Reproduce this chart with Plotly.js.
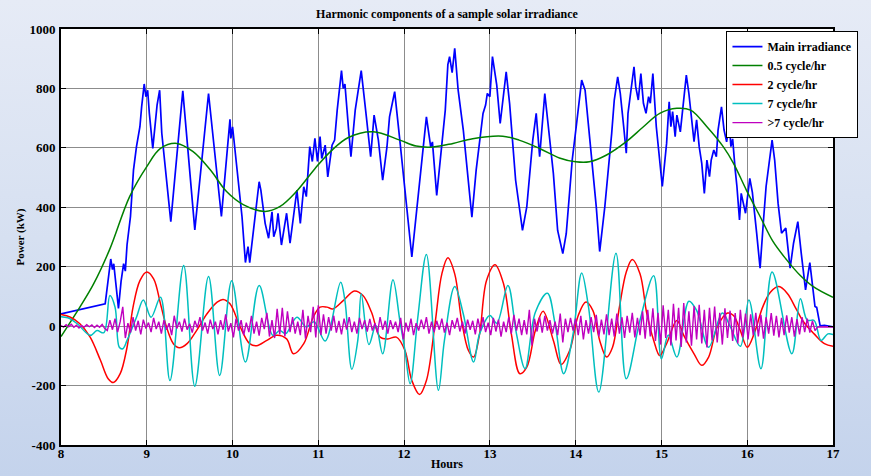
<!DOCTYPE html>
<html>
<head>
<meta charset="utf-8">
<script src="https://cdn.plot.ly/plotly-3.0.1.min.js"></script>
<style>
  html, body { margin: 0; padding: 0; }
  body { width: 871px; height: 476px; background: linear-gradient(to bottom, #e6ebf6 0%, #d6e0f1 50%, #c4d3ec 100%); overflow: hidden; }
  #chart { width: 871px; height: 476px; }
</style>
</head>
<body>
<div id="chart"></div>
<script>
// ---------------- data ----------------
const seriesNames = ["Main irradiance", "0.5 cycle/hr", "2 cycle/hr", "7 cycle/hr", ">7 cycle/hr"];
const xTickLabels = ["8", "9", "10", "11", "12", "13", "14", "15", "16", "17"];
const yTickLabels = ["-400", "-200", "0", "200", "400", "600", "800", "1000"];

const hoursMain = [8.00, 8.515, 8.58, 8.60, 8.615, 8.64, 8.67, 8.70, 8.73, 8.75, 8.77, 8.81, 8.845, 8.88, 8.92, 8.94, 8.97, 8.99, 9.01, 9.03, 9.07, 9.12, 9.15, 9.175, 9.28, 9.42, 9.56, 9.72, 9.87, 9.97, 9.98, 10.00, 10.11, 10.15, 10.18, 10.20, 10.26, 10.31, 10.33, 10.38, 10.42, 10.46, 10.48, 10.51, 10.53, 10.57, 10.63, 10.67, 10.75, 10.79, 10.83, 10.86, 10.90, 10.93, 10.96, 10.99, 11.02, 11.04, 11.08, 11.11, 11.16, 11.19, 11.22, 11.27, 11.29, 11.31, 11.35, 11.38, 11.43, 11.50, 11.56, 11.61, 11.65, 11.70, 11.75, 11.80, 11.83, 11.89, 11.95, 12.09, 12.26, 12.31, 12.33, 12.38, 12.48, 12.51, 12.53, 12.56, 12.59, 12.63, 12.69, 12.75, 12.79, 12.84, 12.92, 12.95, 12.97, 13.00, 13.03, 13.08, 13.12, 13.19, 13.23, 13.30, 13.38, 13.43, 13.50, 13.54, 13.58, 13.64, 13.66, 13.74, 13.79, 13.85, 13.89, 13.93, 13.96, 14.01, 14.03, 14.07, 14.11, 14.19, 14.24, 14.28, 14.34, 14.42, 14.45, 14.49, 14.52, 14.56, 14.59, 14.61, 14.65, 14.68, 14.70, 14.73, 14.76, 14.79, 14.82, 14.85, 14.87, 14.90, 14.94, 14.98, 15.01, 15.06, 15.09, 15.11, 15.13, 15.16, 15.18, 15.22, 15.26, 15.29, 15.32, 15.35, 15.38, 15.41, 15.44, 15.47, 15.50, 15.53, 15.56, 15.58, 15.61, 15.64, 15.66, 15.70, 15.73, 15.76, 15.79, 15.81, 15.83, 15.86, 15.88, 15.91, 15.93, 15.95, 15.98, 16.03, 16.06, 16.11, 16.15, 16.19, 16.22, 16.29, 16.32, 16.36, 16.40, 16.45, 16.50, 16.54, 16.59, 16.63, 16.68, 16.73, 16.77, 16.79, 16.81, 16.85, 16.90, 17.00];
const mainIrradiance = [41, 75, 226, 190, 210, 130, 60, 150, 210, 185, 274, 369, 525, 604, 671, 738, 815, 772, 794, 716, 598, 744, 794, 649, 352, 792, 324, 783, 369, 696, 632, 671, 369, 214, 268, 214, 369, 486, 458, 346, 296, 385, 301, 329, 380, 273, 380, 279, 458, 346, 469, 436, 604, 554, 632, 554, 638, 564, 609, 502, 609, 626, 727, 860, 800, 815, 671, 570, 727, 860, 704, 570, 710, 626, 491, 603, 704, 789, 626, 233, 704, 603, 620, 440, 727, 880, 907, 853, 935, 794, 660, 469, 367, 525, 716, 744, 783, 772, 907, 811, 682, 856, 749, 491, 322, 401, 626, 716, 570, 783, 733, 514, 322, 244, 311, 470, 560, 680, 727, 828, 794, 559, 402, 251, 402, 649, 761, 839, 783, 671, 582, 716, 817, 873, 806, 761, 850, 750, 716, 772, 750, 850, 671, 559, 470, 615, 755, 671, 722, 638, 710, 654, 761, 845, 783, 705, 621, 694, 604, 548, 447, 559, 503, 559, 593, 570, 660, 738, 660, 620, 682, 604, 630, 526, 470, 357, 447, 420, 380, 497, 450, 313, 195, 357, 470, 626, 559, 413, 313, 330, 195, 279, 352, 245, 122, 214, 125, 66, 63, 1, 3, -2];

const hoursHalf = [8.00, 8.22, 8.38, 8.57, 8.80, 9.00, 9.16, 9.35, 9.54, 9.74, 9.93, 10.13, 10.38, 10.55, 10.75, 10.96, 11.15, 11.35, 11.64, 11.95, 12.14, 12.34, 12.57, 12.80, 13.15, 13.34, 13.58, 13.81, 14.00, 14.16, 14.36, 14.59, 14.79, 14.98, 15.18, 15.34, 15.53, 15.72, 15.84, 15.99, 16.15, 16.30, 16.46, 16.61, 16.77, 17.00];
const halfCycle = [-35, 64, 142, 260, 436, 537, 598, 615, 587, 526, 453, 408, 386, 402, 455, 530, 590, 635, 654, 626, 606, 603, 615, 631, 639, 626, 598, 566, 553, 553, 576, 621, 671, 716, 733, 727, 671, 604, 548, 458, 369, 285, 223, 173, 133, 97];

const hoursTwo = [8.00, 8.11, 8.22, 8.34, 8.46, 8.55, 8.61, 8.69, 8.77, 8.84, 8.92, 9.00, 9.08, 9.16, 9.23, 9.31, 9.38, 9.47, 9.58, 9.70, 9.82, 9.89, 9.97, 10.09, 10.20, 10.28, 10.40, 10.51, 10.63, 10.71, 10.83, 10.94, 11.02, 11.10, 11.17, 11.29, 11.42, 11.52, 11.62, 11.72, 11.81, 11.91, 12.01, 12.09, 12.18, 12.26, 12.36, 12.44, 12.51, 12.59, 12.67, 12.75, 12.81, 12.88, 12.96, 13.06, 13.16, 13.25, 13.35, 13.43, 13.53, 13.62, 13.74, 13.83, 13.93, 14.03, 14.12, 14.20, 14.28, 14.36, 14.43, 14.51, 14.59, 14.66, 14.75, 14.83, 14.91, 14.98, 15.06, 15.18, 15.26, 15.38, 15.47, 15.55, 15.65, 15.77, 15.84, 15.92, 16.00, 16.08, 16.18, 16.27, 16.37, 16.47, 16.57, 16.66, 16.78, 16.90, 17.00];
const twoCycle = [39, 30, 8, -37, -115, -177, -190, -160, -71, 64, 153, 182, 159, 75, -3, -59, -73, -59, -15, 41, 81, 90, 75, -3, -59, -66, -48, -31, -43, -93, -59, 30, 64, 64, 58, 86, 118, 103, 47, -37, -43, -37, -82, -183, -230, -183, 8, 176, 230, 176, 19, -82, -104, -26, 153, 207, 142, -26, -160, -138, -15, 50, -48, -129, -82, 36, 81, 53, -48, -104, -71, 64, 182, 224, 176, 41, -48, -99, -59, 19, -31, -93, -132, -104, -3, 44, 36, -15, -71, -26, 64, 114, 133, 109, 58, 13, -26, -59, -68];

const hoursSeven = [8.00, 8.08, 8.19, 8.34, 8.42, 8.50, 8.57, 8.63, 8.68, 8.72, 8.77, 8.88, 8.96, 9.05, 9.16, 9.27, 9.43, 9.56, 9.72, 9.85, 9.99, 10.15, 10.31, 10.47, 10.55, 10.62, 10.75, 10.86, 10.95, 11.08, 11.26, 11.31, 11.39, 11.46, 11.50, 11.59, 11.67, 11.75, 11.87, 11.95, 12.01, 12.07, 12.16, 12.26, 12.40, 12.47, 12.59, 12.69, 12.81, 12.88, 13.00, 13.08, 13.21, 13.31, 13.41, 13.53, 13.67, 13.76, 13.86, 13.97, 14.07, 14.15, 14.27, 14.47, 14.59, 14.75, 14.91, 15.00, 15.08, 15.18, 15.32, 15.41, 15.55, 15.71, 15.80, 15.92, 16.02, 16.16, 16.29, 16.52, 16.62, 16.70, 16.78, 16.86, 16.94, 17.00];
const sevenCycle = [32, 28, 8, -31, -15, -22, 103, 64, -71, -76, -48, 30, 88, 30, 97, -183, 204, -202, 167, -166, 153, -121, 137, -31, -15, -25, 30, -3, 15, -50, 148, 86, -145, -48, 109, -62, 2, -93, 156, 19, -82, -194, 30, 241, -216, -48, 133, 41, -121, -26, 36, 10, 137, -26, -143, 47, 111, 8, -160, -26, 179, 64, -222, 245, -177, 20, 170, -110, -30, -104, 84, 53, -71, 44, 0, -68, 88, -143, 182, -93, 92, 20, 19, -48, -26, -28];

// >7 cycle/hr component, sampled every 0.03 h from 8:00 to 17:00
const highStart = 8.0, highStep = 0.03;
const highFreq = [
  2,-3,5,-2,6,-4,3,-6,2,-3,
  5,-2,4,-5,3,-4,6,-8,-15,20,
  -12,25,-20,15,65,-40,10,-22,30,-15,
  18,-28,22,-8,12,-20,28,-10,15,-25,
  20,-12,10,-30,35,-8,15,-18,25,-12,
  8,-22,18,-5,30,-15,12,-25,22,-10,
  15,-28,20,-12,40,-18,10,-38,25,-15,
  20,-30,12,-20,35,-25,15,-32,28,-10,
  45,-35,20,-40,58,-28,62,-35,50,-20,
  30,-25,15,-30,55,-42,35,-20,65,-38,
  70,-30,40,-25,30,-15,35,-22,18,-28,
  25,-12,30,-20,15,-25,28,-10,20,-18,
  24,-15,10,-22,30,-12,18,-25,20,-10,
  15,-20,28,-45,12,-18,25,-30,10,-15,
  22,-10,30,-25,15,-20,18,-12,25,-22,
  12,-30,20,-8,28,-18,15,-25,22,-12,
  18,-28,25,-15,30,-20,12,-30,28,-18,
  22,-35,15,-20,30,-25,38,-15,25,-30,
  20,-28,55,-65,25,-18,30,-22,35,-15,
  20,-25,15,-30,42,-55,25,-20,28,-15,
  25,-30,35,-45,20,-25,30,-20,38,-35,
  22,-28,40,-30,25,-35,42,-25,30,-40,
  35,-22,45,-38,28,-30,50,-42,55,-35,
  60,-50,45,-62,70,-40,55,-65,75,-48,
  62,-70,78,-55,50,-66,68,-45,72,-58,
  55,-72,62,-48,66,-55,45,-62,60,-40,
  52,-50,44,-58,55,-38,42,-45,40,-30,
  45,-35,38,-42,30,-25,44,-32,35,-38,
  28,-30,36,-22,30,-35,24,-28,30,-20,
  25,-22,18,-15,-3,-4,-3,-2,-3,-4,
  -3
];
const hoursHigh = highFreq.map((_, i) => +(highStart + i * highStep).toFixed(3));

// ---------------- chart ----------------
const serif = "'Liberation Serif', 'Times New Roman', Times, serif";
const colors = ["#0000ff", "#008000", "#ff0000", "#00bfbf", "#bf00bf"];

const traces = [
  { x: hoursMain, y: mainIrradiance, name: seriesNames[0], mode: "lines", line: { color: colors[0], width: 1.7 } },
  { x: hoursHalf, y: halfCycle, name: seriesNames[1], mode: "lines", line: { color: colors[1], width: 1.5, shape: "spline", smoothing: 1 } },
  { x: hoursTwo, y: twoCycle, name: seriesNames[2], mode: "lines", line: { color: colors[2], width: 1.5, shape: "spline", smoothing: 1 } },
  { x: hoursSeven, y: sevenCycle, name: seriesNames[3], mode: "lines", line: { color: colors[3], width: 1.5, shape: "spline", smoothing: 1 } },
  { x: hoursHigh, y: highFreq, name: seriesNames[4], mode: "lines", line: { color: colors[4], width: 1.4 } }
];

const tickFont = { family: serif, size: 13, color: "#000", weight: "bold" };
const axisCommon = {
  showline: true, linecolor: "#000", linewidth: 2, mirror: "ticks",
  ticks: "inside", ticklen: 5, tickwidth: 1, tickcolor: "#000",
  showgrid: true, gridcolor: "#8c8c8c", gridwidth: 1,
  zeroline: false, tickfont: tickFont
};

const layout = {
  width: 871, height: 476,
  paper_bgcolor: "rgba(0,0,0,0)", plot_bgcolor: "#ffffff",
  margin: { l: 61, r: 38, t: 29, b: 31, pad: 0 },
  title: {
    text: "Harmonic components of a sample solar irradiance",
    font: { family: serif, size: 12, color: "#000", weight: "bold" },
    xref: "paper", x: 0.5, xanchor: "center",
    yref: "container", y: 1 - 14 / 476, yanchor: "middle"
  },
  xaxis: Object.assign({}, axisCommon, {
    range: [8, 17], tickvals: xTickLabels.map(Number), ticktext: xTickLabels,
    ticklabelstandoff: -5,
    title: { text: "Hours", font: { family: serif, size: 12, color: "#000", weight: "bold" }, standoff: 0 }
  }),
  yaxis: Object.assign({}, axisCommon, {
    range: [-400, 1000], tickvals: yTickLabels.map(Number), ticktext: yTickLabels,
    ticklabelstandoff: 1,
    title: { text: "Power (kW)", font: { family: serif, size: 11, color: "#000", weight: "bold" }, standoff: 3 }
  }),
  showlegend: true,
  legend: {
    x: 0.862, xanchor: "left", y: 0.995, yanchor: "top",
    bgcolor: "#ffffff", bordercolor: "#000", borderwidth: 1,
    font: { family: serif, size: 12, color: "#000", weight: "bold" },
    itemwidth: 30, tracegroupgap: 0
  }
};

Plotly.newPlot("chart", traces, layout, { staticPlot: true, displayModeBar: false });
</script>
</body>
</html>
